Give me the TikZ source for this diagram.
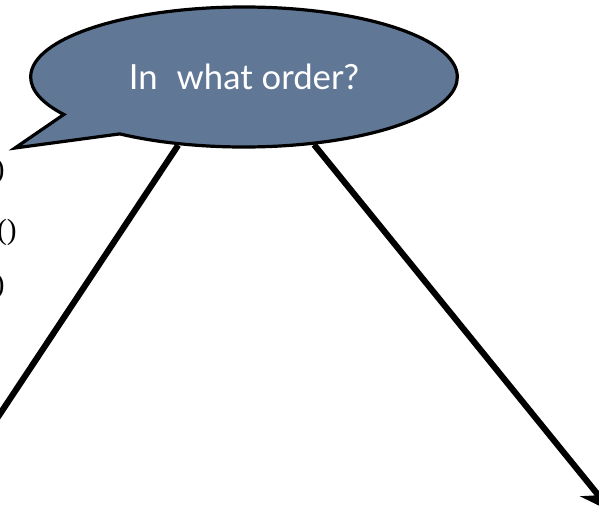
\documentclass[tikz,border=0pt]{standalone}
\usepackage{fontspec}
\newfontfamily\bubblefont{Lato}
\newfontfamily\codefont{Liberation Serif}
\usetikzlibrary{shapes.callouts,arrows.meta,backgrounds}
\definecolor{bubbleblue}{RGB}{96,119,150}

\begin{document}
\begin{tikzpicture}[
    x=0.75pt, y=-0.75pt,
    % style for the speech bubble
    bubble/.style={ellipse callout, draw=black, line width=2.4pt, fill=bubbleblue,
                   minimum width=320pt, minimum height=105pt, inner sep=0pt,
                   callout pointer arc=22, text=white,
                   font=\bubblefont\fontsize{26}{30}\selectfont},
    % style for the cut-off code text at the left edge
    paren/.style={anchor=east, inner sep=0pt, font=\codefont\fontsize{22}{24}\selectfont},
    link/.style={line width=4.6pt},
    arrow/.style={link, -{Stealth[length=24pt, width=22pt]}}
]

% --- Frame ---
\useasboundingbox (0,0) rectangle (599,529);
\clip (0,0) rectangle (599,529);

% --- Free ends ---
\coordinate (tail) at (15,148);
\coordinate (leftend) at (-12,432);
\coordinate (rightend) at (612,512);

% --- Bubble ---
\node[bubble, callout absolute pointer={(tail)}] (bubble) at (244,77)
    {\raisebox{-3pt}{In\hspace{0.55em}what order?}};

% --- Cut-off text on the left ---
\node[paren] (p1) at (5,171) {)};
\node[paren] (p2) at (17,232) {()};
\node[paren] (p3) at (5,286) {)};

% --- Lines out of the bubble ---
\begin{scope}[on background layer]
\draw[link] (bubble.226) -- (leftend);
\draw[arrow] (bubble.316) -- (rightend);
\end{scope}

\end{tikzpicture}
\end{document}
